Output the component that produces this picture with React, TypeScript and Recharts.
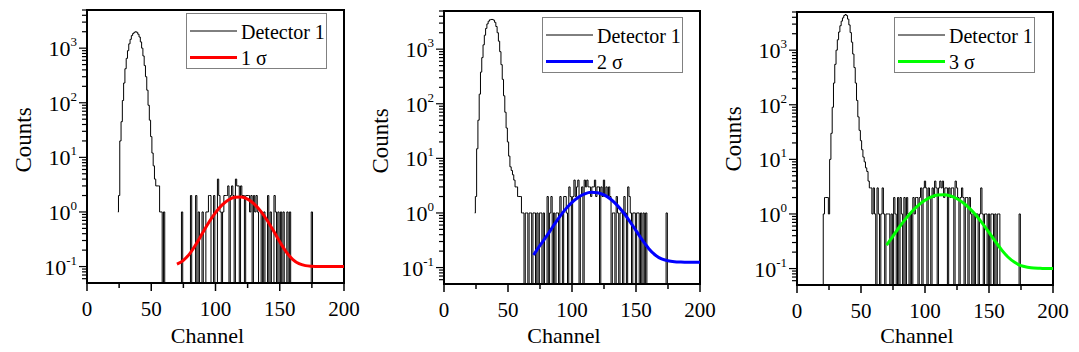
import React from 'react';
import { LineChart, Line, XAxis, YAxis, ReferenceArea, Legend } from 'recharts';

const FONT = "'Liberation Serif', 'Times New Roman', Times, serif";
const ZERO_FLOOR = 0.001; // zero counts drawn below the log axis (clipped)

// ---------- axis ticks ----------
const xTicks = [0, 25, 50, 75, 100, 125, 150, 175, 200];
const xTickLabels = ['0', '', '50', '', '100', '', '150', '', '200'];
const yTicks = [
  0.06, 0.07, 0.08, 0.09,
  0.1, 0.2, 0.3, 0.4, 0.5, 0.6, 0.7, 0.8, 0.9,
  1, 2, 3, 4, 5, 6, 7, 8, 9,
  10, 20, 30, 40, 50, 60, 70, 80, 90,
  100, 200, 300, 400, 500, 600, 700, 800, 900,
  1000, 2000, 3000, 4000, 5000,
];
const yMajorTicks = [0.1, 1, 10, 100, 1000];
const yMajorExponents = ['-1', '0', '1', '2', '3'];

// ---------- histogram: Detector 1 counts per channel ----------
const det1StartA = 24;
const det1CountsA = [
  1, 2, 20, 45, 110, 230,
  420, 650, 900, 1200, 1450, 1700, 1850, 1950, 2000, 1950,
  1800, 1600, 1300, 1000, 720, 480, 300, 170, 90, 48,
  24, 12, 7, 4, 3, 3, 3, 1, 1, 0,
  1, 0, 0, 0, 0, 0, 0, 0, 0, 0,
  0, 0, 0, 0, 1, 0, 0, 0, 0, 0,
  0, 2, 0, 0, 0, 2, 0, 1, 0, 0,
  1, 0, 0, 1, 1, 2, 2, 0, 0, 2,
  0, 0, 4, 2, 1, 0, 1, 2, 2, 2,
  3, 0, 2, 3, 2, 0, 4, 3, 3, 0,
  3, 2, 2, 0, 2, 2, 2, 1, 2, 0,
  2, 1, 2, 1, 0, 0, 1, 0, 1, 0,
  0, 2, 0, 1, 0, 0, 2, 1, 0, 1,
  0, 1, 0, 1, 0, 0, 1, 0, 1, 0,
  0, 0, 0, 0, 0, 0, 0, 0, 0, 0,
  0, 0, 0, 0, 0, 1, 0, 0, 0, 0,
];

const det1StartB = 24;
const det1CountsB = [
  1, 2, 15, 50, 150, 380,
  700, 1200, 1800, 2400, 2900, 3250, 3450, 3500, 3500, 3400,
  3100, 2600, 2000, 1400, 900, 520, 280, 140, 70, 36,
  20, 11, 7, 6, 5, 4, 3, 3, 2, 2,
  2, 1, 1, 0, 1, 1, 0, 1, 1, 0,
  1, 1, 0, 1, 0, 1, 1, 0, 1, 0,
  0, 2, 0, 1, 2, 0, 1, 0, 1, 1,
  0, 2, 1, 0, 2, 2, 1, 0, 3, 2,
  0, 2, 4, 2, 3, 4, 0, 2, 3, 0,
  4, 3, 4, 3, 3, 2, 3, 3, 4, 2,
  3, 3, 0, 3, 2, 4, 2, 3, 2, 3,
  2, 0, 1, 1, 0, 2, 1, 0, 1, 1,
  0, 2, 1, 0, 3, 2, 1, 0, 1, 1,
  0, 1, 1, 0, 1, 0, 1, 0, 1, 0,
  0, 0, 0, 0, 0, 0, 0, 0, 0, 0,
  0, 0, 0, 0, 1, 0, 0, 0, 0, 0,
];

const det1StartC = 20;
const det1CountsC = [
  0, 1, 2, 2, 2, 1, 10, 30, 90, 250,
  550, 1000, 1550, 2150, 2800, 3400, 3900, 4300, 4500, 4300,
  3700, 2900, 2100, 1400, 850, 480, 250, 120, 60, 34,
  22, 15, 11, 9, 7, 6, 4, 3, 3, 1,
  3, 1, 0, 3, 1, 0, 1, 3, 1, 0,
  1, 1, 1, 0, 1, 0, 2, 1, 0, 2,
  0, 2, 1, 0, 2, 0, 2, 1, 0, 1,
  0, 2, 1, 2, 2, 0, 2, 3, 0, 3,
  4, 3, 0, 3, 2, 0, 3, 2, 4, 3,
  0, 3, 4, 3, 4, 2, 3, 3, 0, 3,
  2, 3, 3, 0, 4, 3, 2, 0, 2, 3,
  2, 0, 2, 2, 0, 2, 1, 0, 1, 0,
  1, 1, 0, 1, 3, 1, 0, 1, 1, 0,
  1, 0, 1, 1, 0, 1, 0, 1, 1, 0,
  0, 0, 0, 0, 0, 0, 0, 0, 0, 0,
  0, 0, 0, 0, 1, 0, 0, 0, 0, 0,
];

// ---------- fitted curves (read every 5 channels) ----------
const fitChannels = [70, 75, 80, 85, 90, 95, 100, 105, 110, 115, 120, 125, 130, 135, 140, 145, 150, 155, 160, 165, 170, 175, 180, 185, 190, 195, 200];
const fit1Sigma = [0.111, 0.13, 0.173, 0.26, 0.415, 0.655, 0.976, 1.337, 1.661, 1.864, 1.884, 1.715, 1.407, 1.047, 0.714, 0.456, 0.285, 0.186, 0.136, 0.113, 0.104, 0.101, 0.1, 0.1, 0.1, 0.1, 0.1];
const fit2Sigma = [0.17, 0.254, 0.372, 0.559, 0.829, 1.176, 1.567, 1.946, 2.241, 2.385, 2.349, 2.138, 1.8, 1.408, 1.029, 0.711, 0.475, 0.317, 0.222, 0.17, 0.144, 0.133, 0.128, 0.126, 0.125, 0.125, 0.125];
const fit3Sigma = [0.27, 0.394, 0.577, 0.823, 1.125, 1.458, 1.783, 2.052, 2.215, 2.244, 2.131, 1.9, 1.592, 1.256, 0.938, 0.668, 0.46, 0.313, 0.218, 0.161, 0.13, 0.113, 0.106, 0.102, 0.101, 0.1, 0.1];

const seriesNames = ['Detector 1', '1 σ', '2 σ', '3 σ'];
const fitColors = ['#ff0000', '#0000ff', '#00ff00'];

// ---------- layout (pixels) ----------
const panelLayouts = [
  { left: 0, width: 360, yAxisWidth: 87, top: 10, bottom: 69, right: 16, legendLeft: 186, legendTop: 13, legendWidth: 141, countsY: 140 },
  { left: 360, width: 360, yAxisWidth: 84, top: 11, bottom: 68, right: 20, legendLeft: 182, legendTop: 17, legendWidth: 141, countsY: 141 },
  { left: 720, width: 359, yAxisWidth: 77, top: 12, bottom: 67, right: 26, legendLeft: 174, legendTop: 17, legendWidth: 141, countsY: 139 },
];

const XTick = (props: any) => {
  const { x, y, payload } = props;
  const idx = xTicks.indexOf(payload.value);
  const label = idx >= 0 ? xTickLabels[idx] : '';
  const major = label !== '';
  return (
    <g>
      <line x1={x} x2={x} y1={y} y2={y + (major ? 8 : 5)} stroke="#000" strokeWidth={1.5} />
      {major && (
        <text x={x} y={y + 33} textAnchor="middle" fontFamily={FONT} fontSize={21} fill="#000">
          {label}
        </text>
      )}
    </g>
  );
};

const YTick = (props: any) => {
  const { x, y, payload } = props;
  const idx = yMajorTicks.indexOf(payload.value);
  const major = idx >= 0;
  return (
    <g>
      <line x1={x - (major ? 8 : 5)} x2={x} y1={y} y2={y} stroke="#000" strokeWidth={1.2} />
      {major && (
        <text x={x - 10} y={y + 8} textAnchor="end" fontFamily={FONT} fontSize={22} fill="#000">
          10<tspan dy={-10} fontSize={13}>{yMajorExponents[idx]}</tspan>
        </text>
      )}
    </g>
  );
};

function LegendBox({ width, fitName, fitColor }: { width: number; fitName: string; fitColor: string }) {
  return (
    <div style={{ width, height: 56, boxSizing: 'border-box', border: '1px solid #808080', background: '#fff' }}>
      <svg width={width - 2} height={54} style={{ display: 'block' }}>
        <line x1={3} x2={50} y1={17} y2={17} stroke="#000" strokeWidth={1} />
        <text x={54} y={24.5} fontFamily={FONT} fontSize={20} fill="#000">{seriesNames[0]}</text>
        <line x1={3} x2={50} y1={43.5} y2={43.5} stroke={fitColor} strokeWidth={3} />
        <text x={54} y={50.5} fontFamily={FONT} fontSize={20} fill="#000">{fitName}</text>
      </svg>
    </div>
  );
}

function Panel({ layout, start, counts, fit, fitName, fitColor }: any) {
  const hist = counts.map((c: number, i: number) => ({ ch: start + i, counts: c > 0 ? c : ZERO_FLOOR }));
  const fitData = fitChannels.map((ch, i) => ({ ch, counts: fit[i] }));
  const plotLeft = layout.yAxisWidth;
  const plotRight = layout.width - layout.right;
  const channelX = (plotLeft + plotRight) / 2 - 8;
  return (
    <div style={{ position: 'absolute', left: layout.left, top: 0 }}>
      <LineChart width={layout.width} height={352} margin={{ top: layout.top, right: layout.right, bottom: 0, left: 0 }}>
        <XAxis
          type="number"
          dataKey="ch"
          domain={[0, 200]}
          allowDataOverflow
          ticks={xTicks}
          interval={0}
          tick={<XTick />}
          tickLine={false}
          tickSize={0}
          tickMargin={0}
          height={layout.bottom}
          axisLine={{ stroke: '#000', strokeWidth: 2 }}
          label={{
            value: 'Channel',
            content: () => (
              <text x={channelX} y={343} textAnchor="middle" fontFamily={FONT} fontSize={22} fill="#000">
                Channel
              </text>
            ),
          }}
        />
        <YAxis
          type="number"
          scale="log"
          domain={[0.05, 5000]}
          allowDataOverflow
          ticks={yTicks}
          interval={0}
          tick={<YTick />}
          tickLine={false}
          tickSize={0}
          tickMargin={0}
          width={layout.yAxisWidth}
          axisLine={{ stroke: '#000', strokeWidth: 2 }}
          label={{
            value: 'Counts',
            content: () => (
              <text
                transform={`translate(${layout.yAxisWidth - 56}, ${layout.countsY}) rotate(-90)`}
                textAnchor="middle"
                fontFamily={FONT}
                fontSize={23}
                fill="#000"
              >
                Counts
              </text>
            ),
          }}
        />
        <ReferenceArea x1={0} x2={200} y1={0.05} y2={5000} fill="none" fillOpacity={0} stroke="#000" strokeWidth={2} />
        <Line
          data={hist}
          dataKey="counts"
          name={seriesNames[0]}
          type="step"
          stroke="#000"
          strokeWidth={1}
          dot={false}
          activeDot={false}
          isAnimationActive={false}
        />
        <Line
          data={fitData}
          dataKey="counts"
          name={fitName}
          type="monotone"
          stroke={fitColor}
          strokeWidth={3}
          dot={false}
          activeDot={false}
          isAnimationActive={false}
        />
        <Legend
          layout="vertical"
          align="center"
          verticalAlign="middle"
          wrapperStyle={{ left: layout.legendLeft, top: layout.legendTop, width: layout.legendWidth, height: 56 }}
          content={() => <LegendBox width={layout.legendWidth} fitName={fitName} fitColor={fitColor} />}
        />
      </LineChart>
    </div>
  );
}

export default function App() {
  return (
    <div style={{ position: 'absolute', left: 0, top: 0, width: 1079, height: 352, background: '#fff', overflow: 'hidden', fontFamily: FONT }}>
      <Panel layout={panelLayouts[0]} start={det1StartA} counts={det1CountsA} fit={fit1Sigma} fitName={seriesNames[1]} fitColor={fitColors[0]} />
      <Panel layout={panelLayouts[1]} start={det1StartB} counts={det1CountsB} fit={fit2Sigma} fitName={seriesNames[2]} fitColor={fitColors[1]} />
      <Panel layout={panelLayouts[2]} start={det1StartC} counts={det1CountsC} fit={fit3Sigma} fitName={seriesNames[3]} fitColor={fitColors[2]} />
    </div>
  );
}
